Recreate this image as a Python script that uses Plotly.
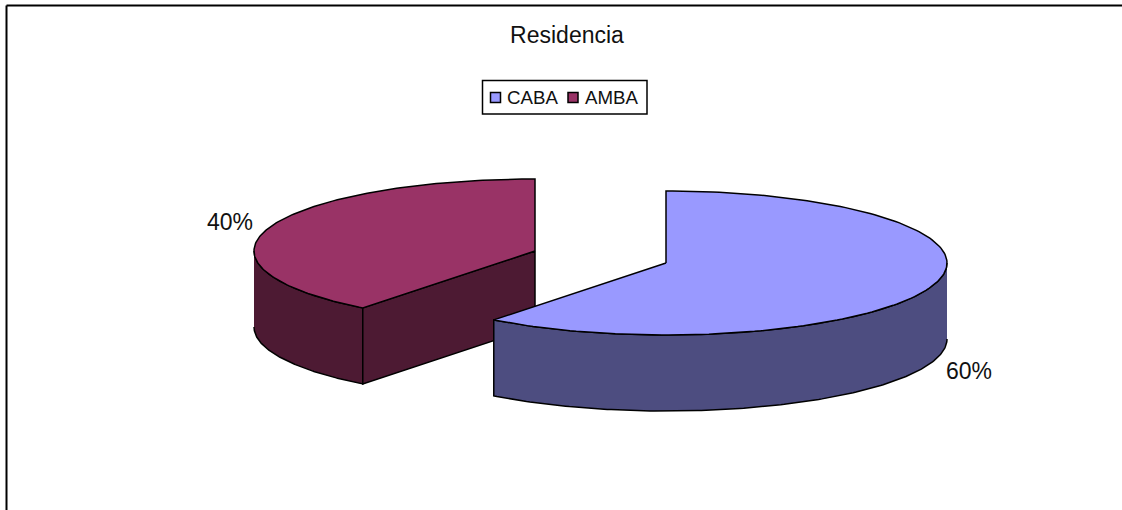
import numpy as np
import plotly.graph_objects as go

categories = ["CABA", "AMBA"]
shares = [60.5, 39.5]
labels = ["60%", "40%"]
top_colors = ["#9999FF", "#993366"]
side_colors = ["#4D4D80", "#4D1A33"]

W, H = 1122, 510
RX, RY, DEPTH = 281, 72, 76
centers = {"CABA": (666, 263), "AMBA": (535, 251)}
label_pos = {"CABA": (969, 371), "AMBA": (230, 221.5)}
legend_swatch_x = {"CABA": 495.5, "AMBA": 573}
legend_text_x = {"CABA": 505.5, "AMBA": 583.5}
LEGEND_Y = 97.5
FONT = "Liberation Sans"


def pt(c, deg):
    t = np.radians(deg)
    return c[0] + RX * np.sin(t), c[1] - RY * np.cos(t)


def arc(c, a, b, n=160):
    return pt(c, np.linspace(a, b, n))


fig = go.Figure()


def poly(xs, ys, color):
    fig.add_trace(go.Scatter(x=list(xs), y=list(ys), mode="lines", fill="toself",
                             fillcolor=color, line=dict(color="black", width=1.5),
                             showlegend=False, hoverinfo="skip"))


split = shares[0] / sum(shares) * 360
# AMBA: clockwise from split to 360
c = centers["AMBA"]
ax, ay = arc(c, 270, split)
sx, sy = pt(c, split)
poly(np.r_[ax, ax[::-1]], np.r_[ay, ay[::-1] + DEPTH], side_colors[1])
poly([c[0], sx, sx, c[0], c[0]], [c[1], sy, sy + DEPTH, c[1] + DEPTH, c[1]], side_colors[1])
tx, ty = arc(c, split, 360)
poly(np.r_[c[0], tx, c[0]], np.r_[c[1], ty, c[1]], top_colors[1])

# CABA: clockwise from 0 to split
c = centers["CABA"]
ax, ay = arc(c, 90, split)
poly(np.r_[ax, ax[::-1]], np.r_[ay, ay[::-1] + DEPTH], side_colors[0])
tx, ty = arc(c, 0, split)
poly(np.r_[c[0], tx, c[0]], np.r_[c[1], ty, c[1]], top_colors[0])

# legend
fig.add_shape(type="rect", x0=482.5, x1=647, y0=80.5, y1=114,
              line=dict(color="black", width=1.5))
for name, col in zip(categories, top_colors):
    fig.add_trace(go.Scatter(x=[legend_swatch_x[name]], y=[LEGEND_Y], mode="markers", name=name,
                             showlegend=False, hoverinfo="name",
                             marker=dict(symbol="square", size=10, color=col,
                                         line=dict(color="black", width=1.5))))
    fig.add_annotation(x=legend_text_x[name], y=LEGEND_Y, text=name, showarrow=False,
                       xanchor="left", yanchor="middle", xshift=-1,
                       font=dict(family=FONT, size=18.7, color="#111"))

for name, lab in zip(categories, labels):
    x, y = label_pos[name]
    fig.add_annotation(x=x, y=y, text=lab, showarrow=False, xanchor="center", yanchor="middle",
                       font=dict(family=FONT, size=23, color="#111"))

# chart frame: only top and left edges fall inside the crop
fig.add_shape(type="line", x0=6.5, x1=W, y0=5.5, y1=5.5, line=dict(color="black", width=2))
fig.add_shape(type="line", x0=6.5, x1=6.5, y0=5.5, y1=H, line=dict(color="black", width=2))

fig.update_layout(
    width=W, height=H, margin=dict(l=0, r=0, t=0, b=0, autoexpand=False),
    paper_bgcolor="white", plot_bgcolor="white", showlegend=False,
    title=dict(text="Residencia", x=567 / W, y=1 - 35 / H, xanchor="center", yanchor="middle",
               font=dict(family=FONT, size=23, color="#111")),
    xaxis=dict(range=[0, W], visible=False, fixedrange=True),
    yaxis=dict(range=[H, 0], visible=False, fixedrange=True),
)
fig.write_html("out.html", config={"displayModeBar": False},
               post_script="document.body.style.margin='0';window.dispatchEvent(new Event('resize'));")
